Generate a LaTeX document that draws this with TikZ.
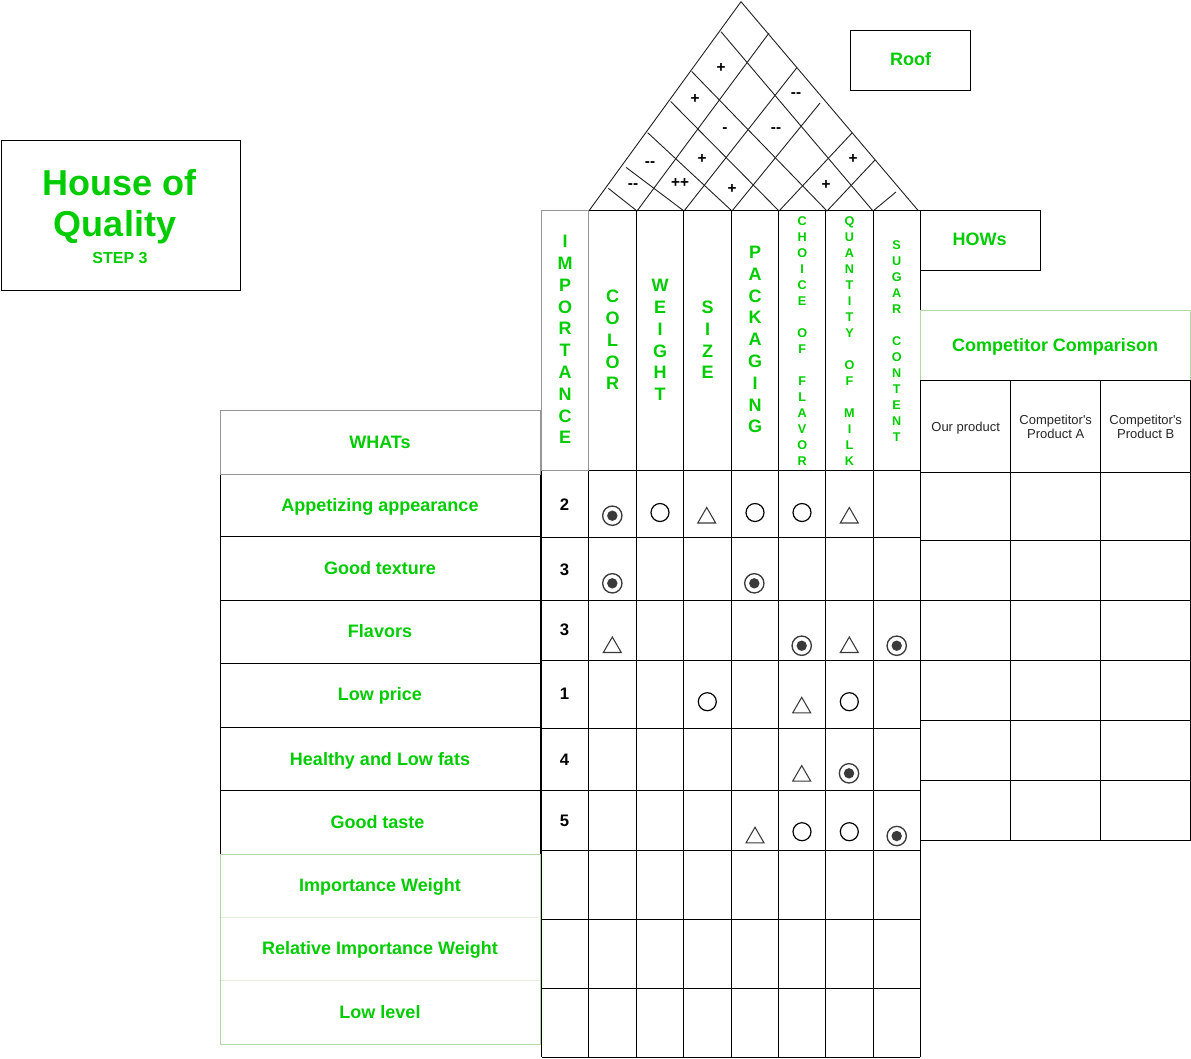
\documentclass[tikz,border=0pt]{standalone}
\usepackage{fontspec}
\setmainfont{Liberation Sans}[Ligatures=TeXOff]
\usetikzlibrary{shapes.geometric}
\definecolor{qgreen}{RGB}{0,204,0}
\definecolor{lgreen}{RGB}{178,216,162}
\definecolor{fgreen}{RGB}{226,239,221}
\definecolor{dgray}{RGB}{58,58,58}
\definecolor{bgray}{RGB}{150,150,150}
\begin{document}
\begin{tikzpicture}[x=0.75pt,y=-0.75pt,line width=0.75pt,
  every node/.style={inner sep=0pt,outer sep=0pt},
  gt/.style={text=qgreen,font=\fontsize{13.5}{16.2}\selectfont\bfseries},
  colt/.style={text=qgreen,font=\fontsize{13.5}{16.35}\selectfont\bfseries,align=center},
  colts/.style={text=qgreen,font=\fontsize{9.5}{12}\selectfont\bfseries,align=center},
  numt/.style={font=\fontsize{12.5}{14}\selectfont\bfseries},
  rs/.style={font=\fontsize{11.5}{12}\selectfont\bfseries},
  subt/.style={text=black!85,font=\fontsize{9.75}{10.5}\selectfont,align=center},
  medc/.style={circle,draw=black,line width=0.9pt,minimum size=13.5pt},
  strc/.style={circle,draw=dgray,line width=1pt,minimum size=14.5pt,
     path picture={\fill[dgray] (path picture bounding box.center) circle (3.9pt);}},
  weakt/.style={regular polygon,regular polygon sides=3,draw=dgray,line width=0.8pt,minimum size=15.5pt},
  roofl/.style={line width=0.7pt,black!85}
]
\useasboundingbox (0,0) rectangle (1191,1058);

% ---------- title ----------
\draw (1.7,140.7) rectangle (240.7,290);
\node[text=qgreen,font=\fontsize{27}{32}\selectfont\bfseries,anchor=base] (t1) at (120,195.7) {House of};
\node[text=qgreen,font=\fontsize{27}{32}\selectfont\bfseries,anchor=base] (t2) at (115,236.7) {Quality};
\node[text=qgreen,font=\fontsize{12}{14}\selectfont\bfseries,anchor=base] (t3) at (120,263.3) {STEP 3};

% ---------- roof box ----------
\draw (850.7,30.7) rectangle (970.7,90.7);
\node[gt,anchor=base] (roof) at (910.7,65.7) {Roof};

% ---------- roof ----------
\draw[roofl] (588.3,211.7) -- (741,1.7) -- (918.3,210.7);
% "\" lines
\draw[roofl] (608.3,188.3) -- (637,211);
\draw[roofl] (626,167.3) -- (684,211);
\draw[roofl] (647.7,132.7) -- (732,211);
\draw[roofl] (670.7,101.5) -- (779,211);
\draw[roofl] (691.7,71.5) -- (827,211);
\draw[roofl] (721,31.7) -- (873,211);
% "/" lines
\draw[roofl] (637,211) -- (769,33);
\draw[roofl] (684,211) -- (797,67.5);
\draw[roofl] (732,211) -- (820,103);
\draw[roofl] (779,211) -- (852,133);
\draw[roofl] (827,211) -- (875,160);
\draw[roofl] (873,211) -- (896,192);
% roof symbols
\node[rs] (r1) at (721,68) {+};
\node[rs] (r2) at (695,99) {+};
\node[rs] (r3) at (796,95) {--};
\node[rs] (r4) at (725,130.5) {-};
\node[rs] (r5) at (776,130.5) {--};
\node[rs] (r6) at (702,159) {+};
\node[rs] (r7) at (650,164.5) {--};
\node[rs] (r8) at (633,186.5) {--};
\node[rs] (r9) at (680,183) {++};
\node[rs] (r10) at (732,189) {+};
\node[rs] (r11) at (853,159) {+};
\node[rs] (r12) at (826,185) {+};

% ---------- main grid ----------
\foreach \x in {588.3,636.7,683.3,731.7,778.7,825.7,873.3,920}
  \draw (\x,210) -- (\x,1057);
\draw (541.7,470.7) -- (541.7,1057);
\draw (588.3,210) -- (920,210);
\foreach \y in {470.7,537.7,600,660.5,728.3,790.7,850.5,919,988,1057}
  \draw (541.7,\y) -- (920,\y);
\draw[bgray] (541.7,210) rectangle (588.3,470.7);

% column headers
\node[colt] (himp) at (565,339.5) {I\\M\\P\\O\\R\\T\\A\\N\\C\\E};
\node[colt] (hcol) at (612.5,340) {C\\O\\L\\O\\R};
\node[colt] (hwei) at (660,340) {W\\E\\I\\G\\H\\T};
\node[colt] (hsiz) at (707.5,340) {S\\I\\Z\\E};
\node[colt] (hpac) at (755.2,339.5) {P\\A\\C\\K\\A\\G\\I\\N\\G};
\node[colts] (hcho) at (802.2,341.2) {C\\H\\O\\I\\C\\E\\~\\O\\F\\~\\F\\L\\A\\V\\O\\R};
\node[colts] (hqua) at (849.5,341.2) {Q\\U\\A\\N\\T\\I\\T\\Y\\~\\O\\F\\~\\M\\I\\L\\K};
\node[colts] (hsug) at (896.7,340.8) {S\\U\\G\\A\\R\\~\\C\\O\\N\\T\\E\\N\\T};

% importance numbers
\node[numt,anchor=base] (n1) at (564.5,510) {2};
\node[numt,anchor=base] (n2) at (564.5,575) {3};
\node[numt,anchor=base] (n3) at (564.5,635.7) {3};
\node[numt,anchor=base] (n4) at (564.5,699.3) {1};
\node[numt,anchor=base] (n5) at (564.5,765) {4};
\node[numt,anchor=base] (n6) at (564.5,826) {5};

% relationship symbols
% row 1
\node[strc] (s11) at (612.3,515.7) {};
\node[medc] (s12) at (660,512.5) {};
\node[weakt] (s13) at (706.7,517.8) {};
\node[medc] (s14) at (755,512.5) {};
\node[medc] (s15) at (802,512.5) {};
\node[weakt] (s16) at (849.3,517.8) {};
% row 2
\node[strc] (s21) at (612.3,583.3) {};
\node[strc] (s24) at (754.3,583.3) {};
% row 3
\node[weakt] (s31) at (612.3,647.3) {};
\node[strc] (s35) at (801.7,645.7) {};
\node[weakt] (s36) at (849.3,647.3) {};
\node[strc] (s37) at (896.7,645.7) {};
% row 4
\node[medc] (s43) at (707.3,701.7) {};
\node[weakt] (s45) at (801.7,707.6) {};
\node[medc] (s46) at (849.3,701.7) {};
% row 5
\node[weakt] (s55) at (801.7,775.9) {};
\node[strc] (s56) at (849,773.3) {};
% row 6
\node[weakt] (s64) at (755,837.6) {};
\node[medc] (s65) at (802,831.7) {};
\node[medc] (s66) at (849.3,831.7) {};
\node[strc] (s67) at (896.7,836) {};

% ---------- WHATs ----------
\draw (220.7,474) rectangle (540.7,854);
\foreach \y in {536.7,600,663.3,727.3,790.7}
  \draw (220.7,\y) -- (540.7,\y);
\draw[fgreen] (220.7,917) -- (540.7,917);
\draw[fgreen] (220.7,980.7) -- (540.7,980.7);
\draw[lgreen] (220.7,854) rectangle (540.7,1044);
\draw[bgray] (220.7,410.7) rectangle (540.7,474);
\node[gt,anchor=base] (whats) at (380,448.3) {WHATs};
\node[gt,anchor=base] (w1) at (380,511.7) {Appetizing appearance};
\node[gt,anchor=base] (w2) at (380,574.3) {Good texture};
\node[gt,anchor=base] (w3) at (380,637) {Flavors};
\node[gt,anchor=base] (w4) at (380,700.3) {Low price};
\node[gt,anchor=base] (w5) at (380,765.5) {Healthy and Low fats};
\node[gt,anchor=base] (w6) at (377.5,828.3) {Good taste};
\node[gt,anchor=base] (w7) at (380,891.5) {Importance Weight};
\node[gt,anchor=base] (w8) at (380,954.8) {Relative Importance Weight};
\node[gt,anchor=base] (w9) at (380,1018.3) {Low level};

% ---------- HOWs & competitor ----------
\draw (920.7,210.7) rectangle (1040.7,270.7);
\node[gt,anchor=base] (hows) at (979.7,245.7) {HOWs};
\draw[lgreen] (920.7,310.7) rectangle (1190.7,380.7);
\node[gt,anchor=base] (comp) at (1055,351.7) {Competitor Comparison};
\draw (920.7,380.7) rectangle (1190.7,840.3);
\foreach \x in {1010.7,1100.7}
  \draw (\x,380.7) -- (\x,840.3);
\foreach \y in {472.3,540.3,600.3,660.3,720.3,780.3}
  \draw (920.7,\y) -- (1190.7,\y);
\node[subt,anchor=base] (c1) at (965.7,431.7) {Our product};
\node[subt] (c2) at (1055.7,426.7) {Competitor's\\Product A};
\node[subt] (c3) at (1145.7,426.7) {Competitor's\\Product B};
\end{tikzpicture}
\end{document}
